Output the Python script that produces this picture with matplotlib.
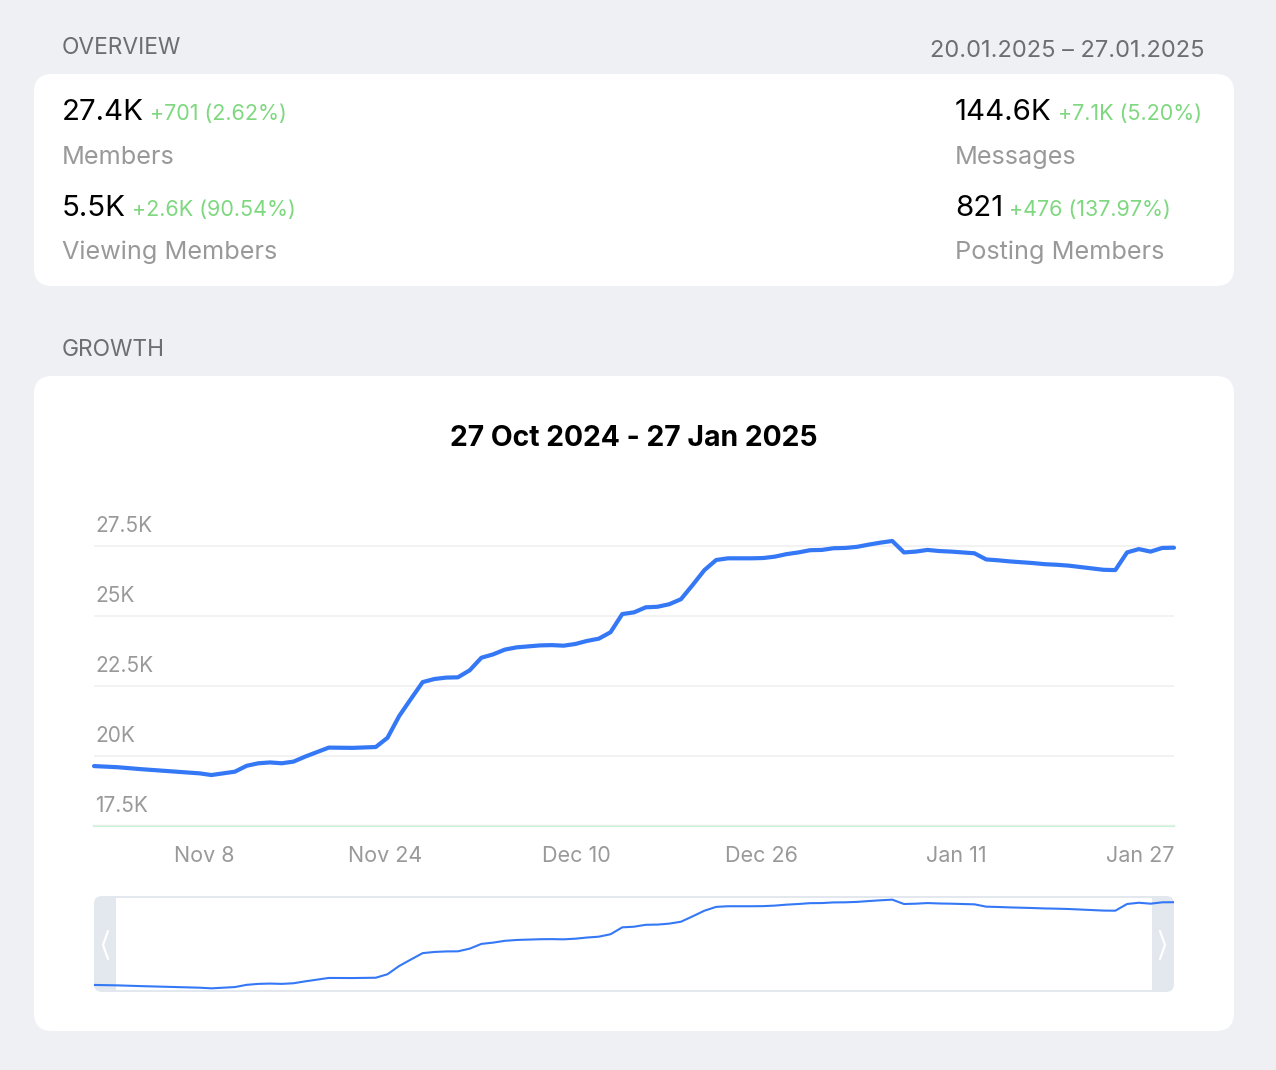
import matplotlib
matplotlib.use("Agg")
import matplotlib.pyplot as plt
from matplotlib.patches import FancyBboxPatch, Rectangle
from matplotlib.lines import Line2D
import matplotlib.transforms as mtransforms
import numpy as np

plt.rcParams['font.family'] = ['Inter', 'DejaVu Sans']

# ---------------- data ----------------
dates = [
    "2024-10-27", "2024-10-29", "2024-10-31", "2024-11-05", "2024-11-06", "2024-11-08",
    "2024-11-09", "2024-11-10", "2024-11-11", "2024-11-12", "2024-11-13", "2024-11-14",
    "2024-11-15", "2024-11-16", "2024-11-18", "2024-11-20", "2024-11-21", "2024-11-22",
    "2024-11-23", "2024-11-24", "2024-11-25", "2024-11-26", "2024-11-27", "2024-11-28",
    "2024-11-29", "2024-11-30", "2024-12-01", "2024-12-02", "2024-12-04", "2024-12-05",
    "2024-12-06", "2024-12-07", "2024-12-08", "2024-12-09", "2024-12-10", "2024-12-11",
    "2024-12-12", "2024-12-13", "2024-12-14", "2024-12-15", "2024-12-16", "2024-12-17",
    "2024-12-18", "2024-12-19", "2024-12-20", "2024-12-22", "2024-12-23", "2024-12-24",
    "2024-12-25", "2024-12-26", "2024-12-27", "2024-12-28", "2024-12-29", "2024-12-30",
    "2024-12-31", "2025-01-01", "2025-01-02", "2025-01-03", "2025-01-04", "2025-01-05",
    "2025-01-06", "2025-01-07", "2025-01-08", "2025-01-09", "2025-01-10", "2025-01-11",
    "2025-01-12", "2025-01-13", "2025-01-14", "2025-01-15", "2025-01-16", "2025-01-17",
    "2025-01-18", "2025-01-19", "2025-01-20", "2025-01-21", "2025-01-22", "2025-01-23",
    "2025-01-24", "2025-01-25", "2025-01-26", "2025-01-27",
]
members_k = [
    19.64, 19.60, 19.53, 19.38, 19.32, 19.44,
    19.65, 19.74, 19.77, 19.74, 19.80, 19.98,
    20.14, 20.30, 20.29, 20.32, 20.65, 21.43,
    22.04, 22.64, 22.75, 22.80, 22.81, 23.06,
    23.51, 23.63, 23.80, 23.88, 23.95, 23.96,
    23.94, 24.00, 24.11, 24.19, 24.42, 25.07,
    25.13, 25.31, 25.33, 25.42, 25.60, 26.11,
    26.64, 27.00, 27.06, 27.06, 27.07, 27.12,
    27.21, 27.27, 27.35, 27.36, 27.42, 27.43,
    27.47, 27.55, 27.62, 27.68, 27.27, 27.30,
    27.36, 27.32, 27.30, 27.27, 27.24, 27.02,
    26.99, 26.95, 26.92, 26.89, 26.85, 26.83,
    26.80, 26.75, 26.70, 26.65, 26.64, 27.27,
    27.39, 27.30, 27.43, 27.44,
]

y_ticks = [17.5, 20, 22.5, 25, 27.5]
y_tick_labels = ["17.5K", "20K", "22.5K", "25K", "27.5K"]
x_ticks = ["2024-11-08", "2024-11-24", "2024-12-10", "2024-12-26", "2025-01-11", "2025-01-27"]
x_tick_labels = ["Nov 8", "Nov 24", "Dec 10", "Dec 26", "Jan 11", "Jan 27"]
x_range = ["2024-10-27", "2025-01-27"]

overview_left = [("27.4K", "+701 (2.62%)", "Members"),
                 ("5.5K", "+2.6K (90.54%)", "Viewing Members")]
overview_right = [("144.6K", "+7.1K (5.20%)", "Messages"),
                  ("821", "+476 (137.97%)", "Posting Members")]
period_text = "20.01.2025 \u2013 27.01.2025"
chart_title = "27 Oct 2024 - 27 Jan 2025"

# ---------------- style ----------------
BG = "#EFF0F4"
HEAD = "#6D6D72"
GRAY = "#999999"
GREEN = "#7ED87F"
BLUE = "#3478F6"
GRID = "#EFEFEF"
BASE = "#CBF3D8"
NAV = "#E2E8EE"

W, H = 1276, 1070
fig = plt.figure(figsize=(W / 100, H / 100), dpi=100)
fig.patch.set_facecolor(BG)

bg = fig.add_axes([0, 0, 1, 1])
bg.set_xlim(0, W)
bg.set_ylim(H, 0)
bg.axis("off")
bg.patch.set_alpha(0)

def card(x0, y0, x1, y1, r=18):
    bg.add_patch(FancyBboxPatch((x0, y0), x1 - x0, y1 - y0,
                                boxstyle=f"round,pad=0,rounding_size={r}",
                                fc="white", ec="none", zorder=1))

card(34, 74, 1234, 286)
card(34, 376, 1234, 1031)

bg.text(62, 54, "OVERVIEW", color=HEAD, fontsize=16.4, va="baseline", ha="left", zorder=3)
bg.text(1204, 57, period_text, color=HEAD, fontsize=17, va="baseline", ha="right", zorder=3)
bg.text(62, 356, "GROWTH", color=HEAD, fontsize=16.4, va="baseline", ha="left", zorder=3)
bg.text(634, 446, chart_title, color="black", fontsize=20.4, fontweight="bold",
        va="baseline", ha="center", zorder=3)

fig.canvas.draw()
renderer = fig.canvas.get_renderer()

def stat_column(x, items):
    base_rows = [(120, 164), (216, 259)]
    for (big, delta, label), (yb, yl) in zip(items, base_rows):
        t = bg.text(x, yb, big, color="black", fontsize=21.2, va="baseline", ha="left", zorder=3)
        ext = t.get_window_extent(renderer)
        bg.text(ext.x1 + 6, yb, delta, color=GREEN, fontsize=15.5, va="baseline",
                ha="left", zorder=3)
        bg.text(x, yl, label, color=GRAY, fontsize=18.2, va="baseline", ha="left", zorder=3)

stat_column(62, overview_left)
stat_column(955, overview_right)

# ---------------- main chart ----------------
xd = np.array(dates, dtype="datetime64[D]")
yv = np.array(members_k)
xr = np.array(x_range, dtype="datetime64[D]")

L, R = 94, 1174
T, B = 500, 826
ax = fig.add_axes([L / W, 1 - B / H, (R - L) / W, (B - T) / H])
ax.patch.set_alpha(0)
top_val = y_ticks[0] + (y_ticks[-1] - y_ticks[0]) * (B - T) / (B - 546)
ax.set_ylim(y_ticks[0], top_val)
ax.set_xlim(xr[0], xr[1])
ax.set_yticks(y_ticks)
ax.set_yticklabels([])
ax.grid(axis="y", color=GRID, lw=1.1, zorder=0)
ax.axhline(y_ticks[0], color=BASE, lw=1.6, zorder=1, clip_on=False)
ax.plot(xd, yv, color=BLUE, lw=3.0, solid_joinstyle="round", solid_capstyle="round",
        zorder=3, clip_on=False)
for s in ax.spines.values():
    s.set_visible(False)
ax.tick_params(axis="both", length=0)
ax.set_xticks(np.array(x_ticks, dtype="datetime64[D]"))
ax.set_xticklabels(x_tick_labels, color=GRAY, fontsize=15.5)
for lbl in ax.get_xticklabels():
    lbl.set_ha("right")
ax.tick_params(axis="x", pad=14.5)

ytrans = mtransforms.blended_transform_factory(ax.transAxes, ax.transData)
ytrans = ytrans + mtransforms.ScaledTranslation(1 / 100, 14 / 100, fig.dpi_scale_trans)
for v, lab in zip(y_ticks, y_tick_labels):
    ax.text(0, v, lab, transform=ytrans, color=GRAY, fontsize=15, ha="left", va="baseline")

# ---------------- navigator ----------------
NT, NB = 896, 992
bg.add_patch(FancyBboxPatch((L, NT), R - L, NB - NT,
                            boxstyle="round,pad=0,rounding_size=8",
                            fc=NAV, ec="none", zorder=2))
bg.add_patch(Rectangle((116, NT + 2), 1152 - 116, NB - NT - 4, fc="white", ec="none", zorder=2.5))
for cx, d in ((108, -1), (1160, 1)):
    bg.add_line(Line2D([cx, cx + 5 * d, cx], [931, 945, 959], color="white", lw=1.6,
                       solid_capstyle="round", zorder=3))

mini = fig.add_axes([L / W, 1 - (NB - 1) / H, (R - L) / W, (NB - NT - 2) / H])
mini.patch.set_alpha(0)
mini.plot(xd, yv, color=BLUE, lw=1.5, zorder=3)
mini.set_xlim(xr[0], xr[1])
mini.margins(y=0.03)
mini.axis("off")

fig.savefig("out.png", dpi=100, facecolor=fig.get_facecolor())
